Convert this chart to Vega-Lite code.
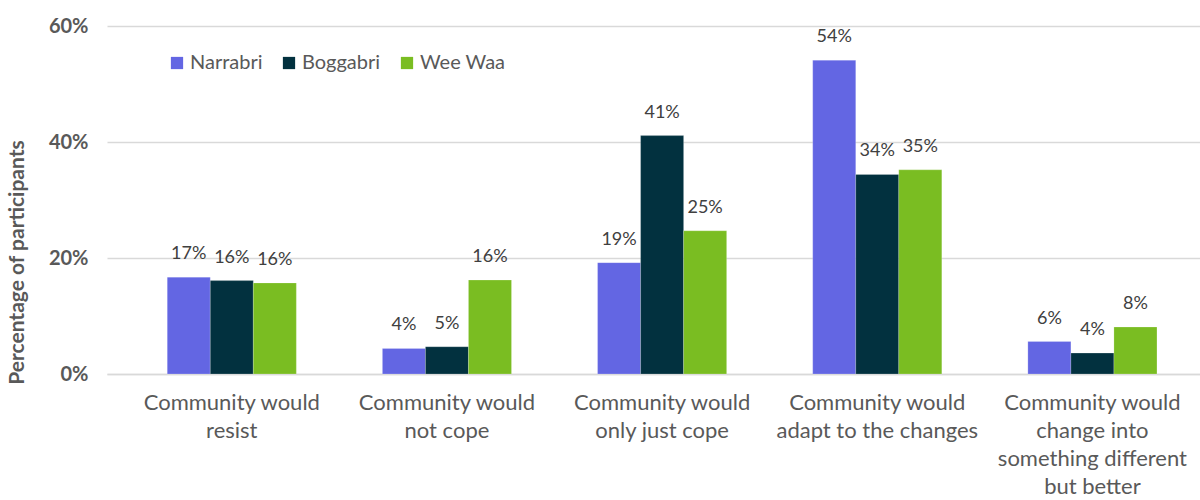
{
  "$schema": "https://vega.github.io/schema/vega-lite/v6.json",
  "width": 1093,
  "height": 348,
  "autosize": {"type": "none"},
  "padding": {"left": 107, "top": 26, "right": 0, "bottom": 126},
  "background": "white",
  "config": {
    "font": "Lato",
    "view": {"stroke": null}
  },
  "data": {
    "values": [
      {"category": "Community would|resist", "town": "Narrabri", "value": 0.167},
      {"category": "Community would|resist", "town": "Boggabri", "value": 0.161},
      {"category": "Community would|resist", "town": "Wee Waa", "value": 0.157},
      {"category": "Community would|not cope", "town": "Narrabri", "value": 0.044},
      {"category": "Community would|not cope", "town": "Boggabri", "value": 0.047},
      {"category": "Community would|not cope", "town": "Wee Waa", "value": 0.162},
      {"category": "Community would|only just cope", "town": "Narrabri", "value": 0.192},
      {"category": "Community would|only just cope", "town": "Boggabri", "value": 0.411},
      {"category": "Community would|only just cope", "town": "Wee Waa", "value": 0.247},
      {"category": "Community would|adapt to the changes", "town": "Narrabri", "value": 0.541},
      {"category": "Community would|adapt to the changes", "town": "Boggabri", "value": 0.344},
      {"category": "Community would|adapt to the changes", "town": "Wee Waa", "value": 0.352},
      {"category": "Community would|change into|something different|but better", "town": "Narrabri", "value": 0.056},
      {"category": "Community would|change into|something different|but better", "town": "Boggabri", "value": 0.036},
      {"category": "Community would|change into|something different|but better", "town": "Wee Waa", "value": 0.081}
    ]
  },
  "encoding": {
    "x": {
      "field": "category",
      "type": "nominal",
      "sort": null,
      "scale": {"paddingInner": 0, "paddingOuter": 0.04, "align": 1},
      "axis": {
        "title": null,
        "labelAngle": 0,
        "labelExpr": "split(datum.value, '|')",
        "labelFontSize": 22,
        "labelColor": "#595959",
        "labelLineHeight": 28,
        "labelPadding": 18,
        "labelBaseline": "top",
        "labelLimit": 400,
        "labelOverlap": false,
        "ticks": false,
        "domainColor": "#D9D9D9",
        "domainWidth": 1.5
      }
    },
    "xOffset": {
      "field": "town",
      "type": "nominal",
      "sort": ["Narrabri", "Boggabri", "Wee Waa"],
      "scale": {"paddingInner": 0, "paddingOuter": 1.07}
    },
    "y": {
      "field": "value",
      "type": "quantitative",
      "scale": {"domain": [0, 0.6], "nice": false},
      "axis": {
        "title": "Percentage of participants",
        "titleFontSize": 21,
        "titleFontWeight": "bold",
        "titleColor": "#595959",
        "titleX": -90,
        "titleY": 236,
        "titleAlign": "center",
        "titleBaseline": "middle",
        "titleAngle": -90,
        "values": [0, 0.2, 0.4, 0.6],
        "format": ".0%",
        "labelFontSize": 20,
        "labelFontWeight": "bold",
        "labelColor": "#595959",
        "labelPadding": 19,
        "ticks": false,
        "domain": false,
        "gridColor": "#D9D9D9",
        "gridWidth": 1.5
      }
    }
  },
  "layer": [
    {
      "mark": {"type": "bar", "stroke": "white", "strokeWidth": 0.5, "strokeOpacity": 0.4},
      "encoding": {
        "color": {
          "field": "town",
          "type": "nominal",
          "sort": ["Narrabri", "Boggabri", "Wee Waa"],
          "scale": {"domain": ["Narrabri", "Boggabri", "Wee Waa"], "range": ["#6366E3", "#02313F", "#7ABD22"]},
          "legend": {
            "title": null,
            "orient": "none",
            "legendX": 60,
            "legendY": 27,
            "direction": "horizontal",
            "symbolType": "square",
            "symbolSize": 150,
            "symbolStrokeWidth": 0,
            "labelFontSize": 20,
            "labelColor": "#595959",
            "labelOffset": 3,
            "columnPadding": 16
          }
        }
      }
    },
    {
      "mark": {"type": "text", "baseline": "bottom", "dy": -14, "fontSize": 18, "color": "#404040"},
      "encoding": {
        "text": {"field": "value", "type": "quantitative", "format": ".0%"}
      }
    }
  ]
}
